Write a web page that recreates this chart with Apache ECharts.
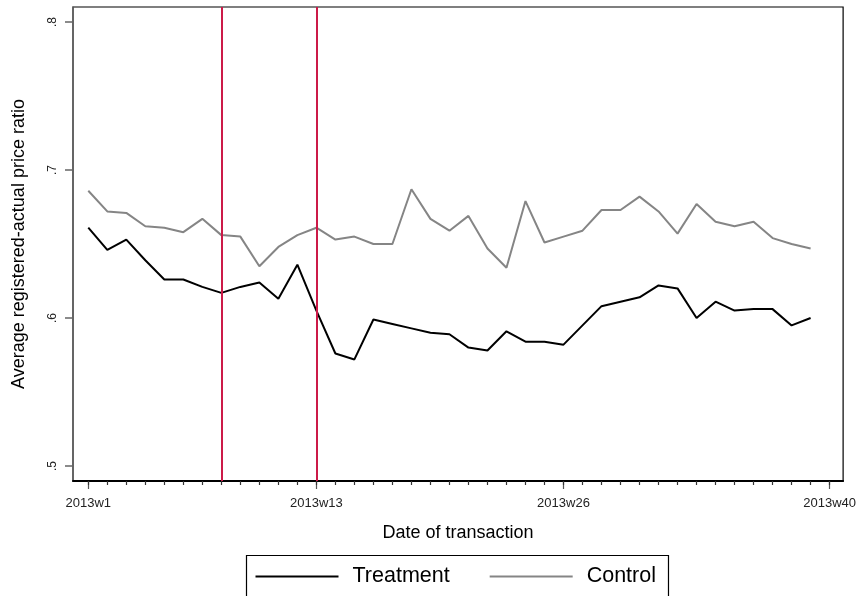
<!DOCTYPE html>
<html>
<head>
<meta charset="utf-8">
<script src="https://cdn.jsdelivr.net/npm/echarts@6/dist/echarts.min.js"></script>
<style>
html,body{margin:0;padding:0;background:#fff;}
#chart{width:859px;height:596px;}
</style>
</head>
<body>
<div id="chart"></div>
<script>
const weeks = [1,2,3,4,5,6,7,8,9,10,11,12,13,14,15,16,17,18,19,20,21,22,23,24,25,26,27,28,29,30,31,32,33,34,35,36,37,38,39];
const treatment = [0.661,0.646,0.653,0.639,0.626,0.626,0.621,0.617,0.621,0.624,0.613,0.636,0.605,0.576,0.572,0.599,0.596,0.593,0.590,0.589,0.580,0.578,0.591,0.584,0.584,0.582,0.595,0.608,0.611,0.614,0.622,0.620,0.600,0.611,0.605,0.606,0.606,0.595,0.600];
const control = [0.686,0.672,0.671,0.662,0.661,0.658,0.667,0.656,0.655,0.635,0.648,0.656,0.661,0.653,0.655,0.650,0.650,0.687,0.667,0.659,0.669,0.647,0.634,0.679,0.651,0.655,0.659,0.673,0.673,0.682,0.672,0.657,0.677,0.665,0.662,0.665,0.654,0.650,0.647];
const xTickWeeks = [1,13,26,40];
const xTickLabels = ['2013w1','2013w13','2013w26','2013w40'];
const yTicks = [0.5,0.6,0.7,0.8];
const eventWeeks = [8,13];
const seriesNames = ['Treatment','Control'];

const FONT = '"Liberation Sans", Arial, sans-serif';
const chart = echarts.init(document.getElementById('chart'));
const pair = (ys) => weeks.map((w,i) => [w, ys[i]]);

chart.setOption({
  animation: false,
  backgroundColor: '#ffffff',
  textStyle: { fontFamily: FONT },
  grid: {
    left: 73, right: 15.5, top: 7, bottom: 115,
    show: true, borderColor: '#000', borderWidth: 1.2, backgroundColor: '#fff'
  },
  legend: {
    data: seriesNames,
    left: 246.5, top: 555.5,
    orient: 'horizontal',
    icon: 'rect',
    padding: [10, 12.5, 24, 9],
    itemWidth: 83, itemHeight: 2, itemGap: 40,
    borderColor: '#000', borderWidth: 1.2,
    backgroundColor: '#fff',
    textStyle: { fontSize: 21.5, color: '#000', fontFamily: FONT, padding: [0,0,0,9], lineHeight: 20 }
  },
  xAxis: [{
    type: 'value', min: 0.196, max: 40.71,
    name: 'Date of transaction', nameLocation: 'middle', nameGap: 43,
    nameTextStyle: { fontSize: 18, color: '#000', fontFamily: FONT },
    splitLine: { show: false },
    axisLine: { show: true, onZero: false, lineStyle: { color: '#000', width: 2 } },
    axisTick: { show: true, customValues: xTickWeeks, length: 8, lineStyle: { color: '#555', width: 1.2 } },
    axisLabel: { show: true, customValues: xTickWeeks, margin: 16, fontSize: 13, color: '#222', fontFamily: FONT,
      formatter: (v) => xTickLabels[xTickWeeks.indexOf(Math.round(v))] || '' }
  }, {
    type: 'value', min: 0.196, max: 40.71, position: 'bottom',
    splitLine: { show: false },
    axisLine: { show: false, onZero: false },
    axisTick: { show: true, customValues: weeks.concat([40]), length: 4, lineStyle: { color: '#333', width: 1.2 } },
    axisLabel: { show: false }
  }],
  yAxis: {
    type: 'value', min: 0.48986, max: 0.81014,
    name: 'Average registered-actual price ratio', nameLocation: 'middle', nameGap: 44.5,
    nameTextStyle: { fontSize: 18, color: '#000', fontFamily: FONT },
    splitLine: { show: false },
    axisLine: { show: true, onZero: false, lineStyle: { color: '#666', width: 1.5 } },
    axisTick: { show: true, customValues: yTicks, length: 8, lineStyle: { color: '#666', width: 1.5 } },
    axisLabel: { show: true, customValues: yTicks, rotate: 90, margin: 14, fontSize: 12, color: '#222', fontFamily: FONT,
      formatter: (v) => String(Math.round(v * 10) / 10).replace(/^0\./, '.') }
  },
  series: [{
    name: seriesNames[0], type: 'line', data: pair(treatment),
    symbol: 'none', lineStyle: { color: '#000', width: 2 }, itemStyle: { color: '#000' },
    z: 3,
    markLine: {
      silent: true, symbol: 'none', label: { show: false },
      lineStyle: { color: '#cc1a48', width: 2, type: 'solid' },
      data: eventWeeks.map(w => ({ xAxis: w }))
    }
  }, {
    name: seriesNames[1], type: 'line', data: pair(control),
    symbol: 'none', lineStyle: { color: '#858585', width: 2 }, itemStyle: { color: '#858585' },
    z: 2
  }]
});
</script>
</body>
</html>
